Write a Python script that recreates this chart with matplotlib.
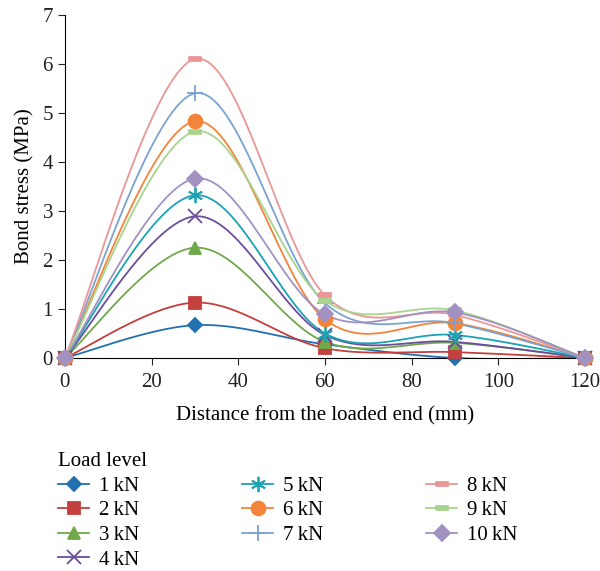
import matplotlib
matplotlib.use("Agg")
from matplotlib import pyplot as plt
from matplotlib.path import Path
import numpy

plt.rcParams["font.family"] = ["Liberation Serif", "DejaVu Serif"]

distance = [0, 30, 60, 90, 120]
labels = ["1 kN", "2 kN", "3 kN", "4 kN", "5 kN", "6 kN", "7 kN", "8 kN", "9 kN", "10 kN"]
stress_1kn = [0, 0.67, 0.28, 0.0, 0]
stress_2kn = [0, 1.13, 0.2, 0.12, 0]
stress_3kn = [0, 2.25, 0.33, 0.31, 0]
stress_4kn = [0, 2.89, 0.47, 0.33, 0]
stress_5kn = [0, 3.32, 0.5, 0.47, 0]
stress_6kn = [0, 4.83, 0.79, 0.71, 0]
stress_7kn = [0, 5.4, 1.12, 0.71, 0]
stress_8kn = [0, 6.1, 1.28, 0.88, 0]
stress_9kn = [0, 4.62, 1.17, 0.97, 0]
stress_10kn = [0, 3.66, 0.89, 0.93, 0]

colors = ["#2270b0", "#c3403f", "#70a84a", "#6b4e9b", "#1ba3b3",
          "#f3843a", "#7aa3d2", "#e99796", "#a8d48d", "#a292c2"]

# flat rectangles used by the 8 kN and 9 kN series
rect_small = Path([(-1, -0.4), (1, -0.4), (1, 0.4), (-1, 0.4), (-1, -0.4)])
rect_wide = Path([(-1.4, -0.35), (1.4, -0.35), (1.4, 0.35), (-1.4, 0.35), (-1.4, -0.35)])
markers = ["D", "s", "^", "x", (6, 2, 0), "o", "+", rect_small, rect_wide, "D"]
sizes = [7, 9, 9, 10, 11, 10, 12, 8, 9, 8]


def smooth(xs, ys, n=40):
    # Excel style smoothed line: cubic bezier with catmull-rom control points
    pts = numpy.column_stack([xs, ys]).astype(float)
    ext = numpy.vstack([pts[0], pts, pts[-1]])
    out = []
    t = numpy.linspace(0, 1, n)[:, None]
    for i in range(len(pts) - 1):
        p0, p1, p2, p3 = ext[i], ext[i + 1], ext[i + 2], ext[i + 3]
        c1 = p1 + (p2 - p0) / 6
        c2 = p2 - (p3 - p1) / 6
        seg = ((1 - t) ** 3) * p1 + 3 * ((1 - t) ** 2) * t * c1 + 3 * (1 - t) * t ** 2 * c2 + t ** 3 * p2
        out.append(seg if i == 0 else seg[1:])
    out = numpy.vstack(out)
    return out[:, 0], out[:, 1]


series = [stress_1kn, stress_2kn, stress_3kn, stress_4kn, stress_5kn,
          stress_6kn, stress_7kn, stress_8kn, stress_9kn, stress_10kn]

fig = plt.figure(figsize=(6, 5.71), dpi=100)
ax = fig.add_axes([0.108, 0.373, 0.867, 0.601])

handles = []
for ys, color, marker, size, label in zip(series, colors, markers, sizes, labels):
    sx, sy = smooth(distance, ys)
    ax.plot(sx, sy, color=color, linewidth=1.3, zorder=2)
    ax.plot(distance, ys, linestyle="none", marker=marker, markersize=size,
            color=color, markeredgecolor=color, markeredgewidth=1.3, zorder=3, clip_on=False)
    h, = ax.plot([], [], color=color, linewidth=1.3, marker=marker, markersize=size,
                 markeredgecolor=color, markeredgewidth=1.3, label=label.replace(" ", "\u2009"))
    handles.append(h)

ax.set_xlim(0, 120)
ax.set_ylim(0, 7)
ax.set_xticks(range(0, 121, 20))
ax.set_yticks(range(0, 8))
ax.spines["top"].set_visible(False)
ax.spines["right"].set_visible(False)
ax.tick_params(direction="out", length=5, labelsize=15, colors="#222222")
ax.tick_params(axis="x", pad=6)
ax.set_xlabel("Distance from the loaded end (mm)", fontsize=15, labelpad=10)
ax.set_ylabel("Bond stress (MPa)", fontsize=15, labelpad=6)

fig.legend(handles=handles, ncol=3, loc="upper left", bbox_to_anchor=(0.097, 0.208),
           frameon=False, fontsize=15, title="Load level", title_fontsize=15,
           alignment="left", columnspacing=4.95, handlelength=1.5, handletextpad=0.45,
           labelspacing=0.24, borderaxespad=0, borderpad=0)

fig.savefig("out.png")
